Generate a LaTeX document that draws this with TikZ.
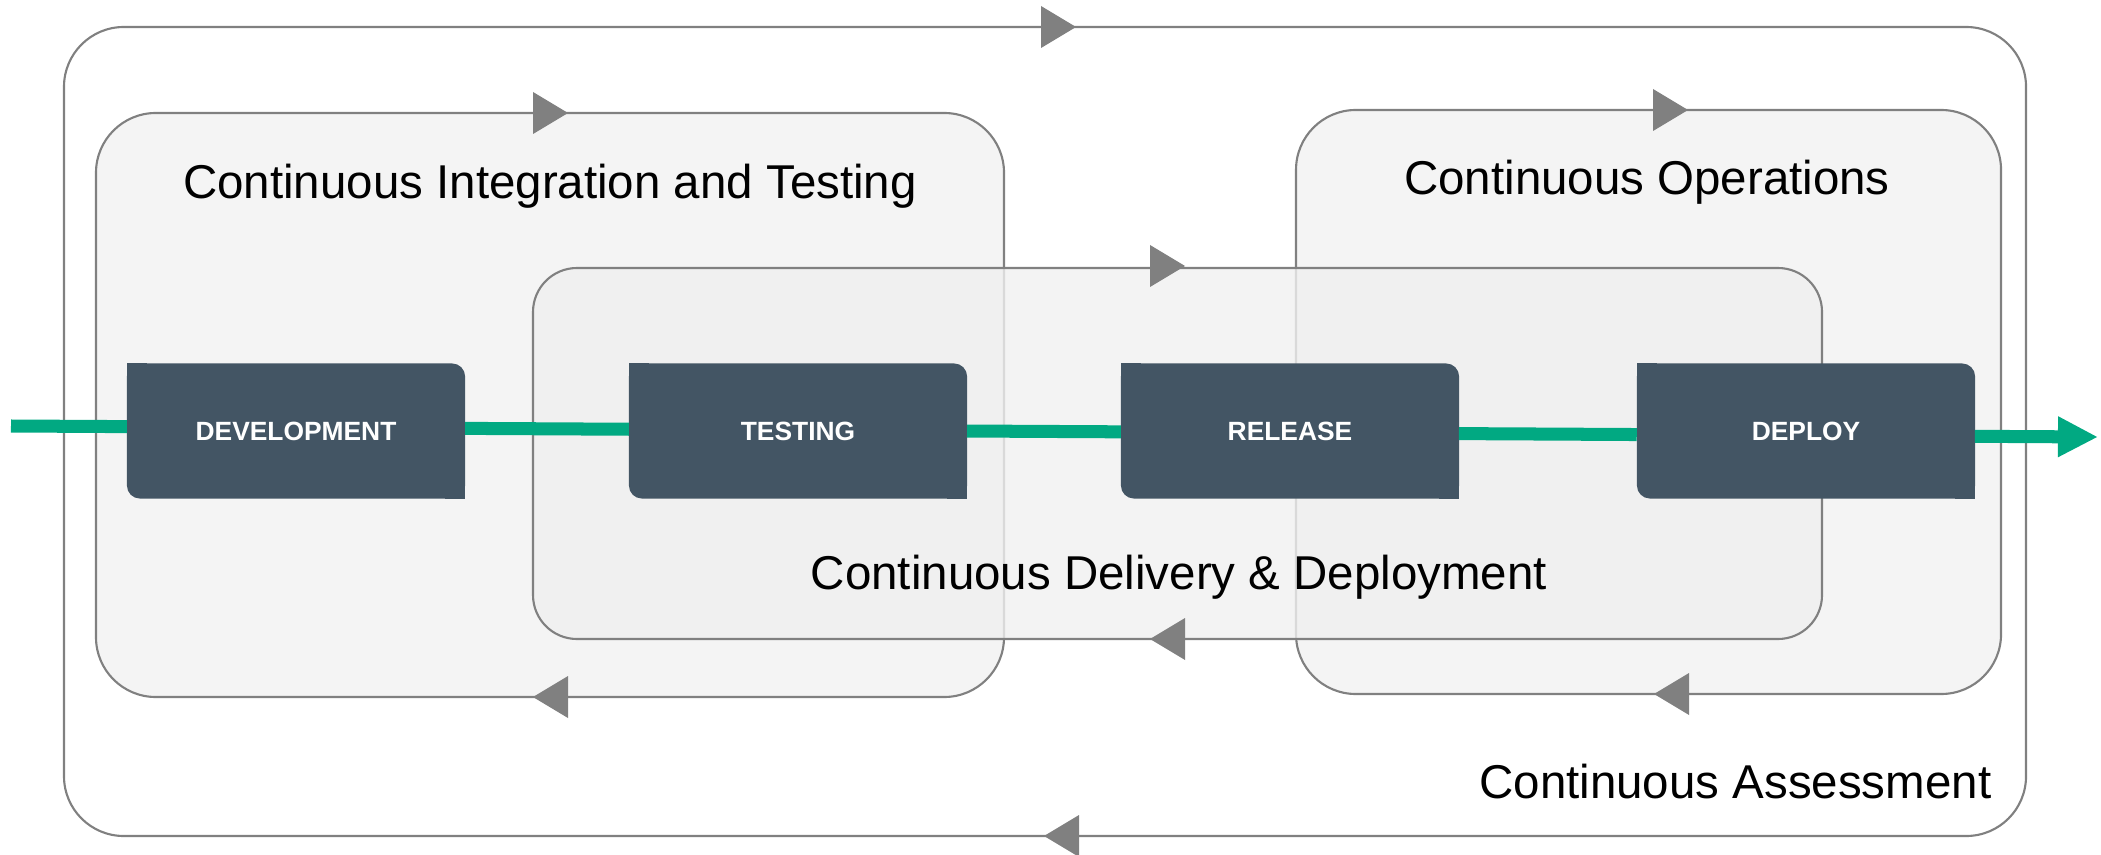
\documentclass[tikz,border=0pt]{standalone}
\usepackage{fontspec}
\setmainfont{Liberation Sans}
\usepackage{tikz}
\tikzset{>=latex}
\usetikzlibrary{arrows.meta,calc,positioning}

\definecolor{loopgrey}{HTML}{808080}
\definecolor{loopfill}{HTML}{F4F4F4}
\definecolor{cdfill}{HTML}{F0F0F0}
\definecolor{stagefill}{HTML}{435564}
\definecolor{flowgreen}{HTML}{01A982}

\tikzset{
    loopbox/.style={draw=loopgrey, line width=0.6pt},
    looptitle/.style={font=\fontsize{13.5}{16}\selectfont, anchor=base, inner sep=0pt},
    stage/.style={fill=stagefill, rounded corners=3.7pt, outer sep=0pt, minimum width=3.38cm, minimum height=1.35cm, text=white, font=\bfseries\fontsize{7.5}{9}\selectfont},
    flow/.style={draw=flowgreen, line width=3.7pt}
}

\begin{document}
\begin{tikzpicture}[x=0.01cm, y=-0.01cm]
                \useasboundingbox (0,0) rectangle (2101,855);

                \draw[loopbox, fill=white, rounded corners=17pt] (64,27) rectangle (2026,836);
                \draw[loopbox, fill=loopfill, rounded corners=17pt] (96,113) rectangle (1004,697);
                \draw[loopbox, fill=loopfill, rounded corners=17pt] (1296,110) rectangle (2001,694);
                \draw[loopbox, fill=cdfill, fill opacity=0.8, rounded corners=12.5pt] (533,268) rectangle (1822,639);

                \foreach \x/\y/\w in {1076/27/-35, 568/113/-35, 1185/266/-35, 1688/110/-35, 1044/836/35, 533/697/35, 1150/639/35, 1654/694/35}
                {
                \fill[loopgrey] (\x,\y) -- ++(\w,-21) -- ++(0,42) -- cycle;
                }

                \node[looptitle] (ci) at (550,199) {Continuous Integration and Testing};
                \node[looptitle] (co) at (1647,195) {Continuous Operations};
                \node[looptitle] (cd) at (1179,589) {Continuous Delivery \& Deployment};
                \node[looptitle, anchor=base east] (ca) at (1992,798) {Continuous Assessment};

                \node[stage] (dev) at (296,431) {DEVELOPMENT};
                \node[stage] (test) at (798,431) {TESTING};
                \node[stage] (rel) at (1290,431) {RELEASE};
                \node[stage] (dep) at (1806,431) {DEPLOY};

                \foreach \s in {dev,test,rel,dep}
                {
                \fill[stagefill] (\s.north west) rectangle ++(20,20);
                \fill[stagefill] (\s.south east) rectangle ++(-20,-20);
                }

                \coordinate (in) at (11,426);
                \coordinate (out) at (2098,437);
                \draw[flow] (in) -- ($(in)!(dev.west)!(out)$);
                \draw[flow] ($(in)!(dev.east)!(out)$) -- ($(in)!(test.west)!(out)$);
                \draw[flow] ($(in)!(test.east)!(out)$) -- ($(in)!(rel.west)!(out)$);
                \draw[flow] ($(in)!(rel.east)!(out)$) -- ($(in)!(dep.west)!(out)$);
                \draw[flow, -{Triangle[length=11.4pt, width=10.8pt]}] ($(in)!(dep.east)!(out)$) -- (out);
            \end{tikzpicture}
\end{document}
